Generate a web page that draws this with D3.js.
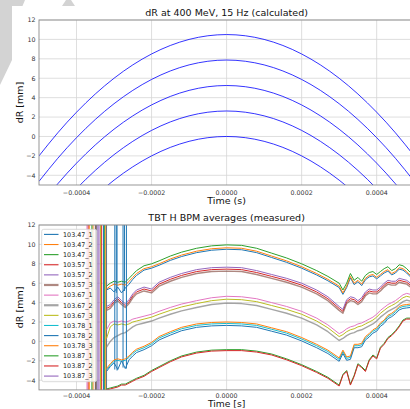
<!DOCTYPE html>
<html>
<head>
<meta charset="utf-8">
<script src="https://cdn.jsdelivr.net/npm/d3@7"></script>
<style>
  body { margin: 0; background: #fff; }
  svg { display: block; font-family: "DejaVu Sans", sans-serif; }
</style>
</head>
<body>
<svg id="chart" width="410" height="409"></svg>
<script>
// ---- calculated dR curves (top panel) ----
const calcTimes = [-0.0005, -0.00045, -0.0004, -0.00035, -0.0003, -0.00025, -0.0002, -0.00015, -0.0001, -0.00005, 0,
  0.00005, 0.0001, 0.00015, 0.0002, 0.00025, 0.0003, 0.00035, 0.0004, 0.00045, 0.0005];
const calc1 = [-2.0, 0.375, 2.5, 4.375, 6.0, 7.375, 8.5, 9.375, 10.0, 10.375, 10.5, 10.375, 10.0, 9.375, 8.5, 7.375, 6.0, 4.375, 2.5, 0.375, -2.0];
const calc2 = [-4.625, -2.25, -0.125, 1.75, 3.375, 4.75, 5.875, 6.75, 7.375, 7.75, 7.875, 7.75, 7.375, 6.75, 5.875, 4.75, 3.375, 1.75, -0.125, -2.25, -4.625];
const calc3 = [-7.25, -4.875, -2.75, -0.875, 0.75, 2.125, 3.25, 4.125, 4.75, 5.125, 5.25, 5.125, 4.75, 4.125, 3.25, 2.125, 0.75, -0.875, -2.75, -4.875, -7.25];
const calc4 = [-9.875, -7.5, -5.375, -3.5, -1.875, -0.5, 0.625, 1.5, 2.125, 2.5, 2.625, 2.5, 2.125, 1.5, 0.625, -0.5, -1.875, -3.5, -5.375, -7.5, -9.875];
const calc5 = [-12.5, -10.125, -8, -6.125, -4.5, -3.125, -2, -1.125, -0.5, -0.125, 0, -0.125, -0.5, -1.125, -2, -3.125, -4.5, -6.125, -8, -10.125, -12.5];

// ---- measured TBT averages (bottom panel) ----
const measTimes = [-0.00032, -0.00031, -0.0003, -0.00029, -0.00028, -0.00027, -0.00026, -0.00025, -0.00024, -0.00022, -0.0002,
  -0.00018, -0.00015, -0.00012, -0.00008, -0.00004, 0, 0.00004, 0.00008, 0.00012, 0.00016, 0.0002, 0.00024, 0.00027,
  0.0003, 0.00031, 0.00032, 0.00033, 0.00034, 0.00035, 0.00036, 0.00037, 0.00038, 0.00039, 0.0004, 0.00041, 0.00042,
  0.00043, 0.00044, 0.00045, 0.00046, 0.00047, 0.00048, 0.00049, 0.0005];

const bpm47_1 = [5.3, 5.5, 5.1, 5.6, 5.0, 5.5, 5.9, 6.4, 6.8, 7.35, 7.55, 7.85, 8.35, 8.75, 9.15, 9.4, 9.5, 9.45, 9.15, 8.65, 8.15, 7.55, 6.85, 6.25, 5.55, 4.85, 5.55, 6.55, 5.85, 6.15, 5.75, 6.35, 6.65, 6.75, 6.45, 6.75, 7.05, 7.25, 6.85, 7.05, 7.45, 7.35, 7.05, 6.65, 6.45];
const bpm47_2 = [5.4, 5.7, 5.9, 5.8, 5.9, 5.8, 6.2, 6.6, 7.0, 7.5, 7.7, 8.0, 8.5, 8.9, 9.3, 9.55, 9.65, 9.6, 9.3, 8.8, 8.3, 7.7, 7.0, 6.4, 5.7, 5.0, 5.7, 6.7, 6.0, 6.3, 5.9, 6.5, 6.8, 6.9, 6.6, 6.9, 7.2, 7.4, 7.0, 7.2, 7.6, 7.5, 7.2, 6.8, 6.6];
const bpm47_3 = [5.7, 6.0, 6.2, 6.1, 6.2, 6.1, 6.5, 6.9, 7.3, 7.8, 8.0, 8.3, 8.8, 9.2, 9.6, 9.85, 9.95, 9.9, 9.6, 9.1, 8.6, 8.0, 7.3, 6.7, 6.0, 5.3, 6.0, 7.0, 6.3, 6.6, 6.2, 6.8, 7.1, 7.2, 6.9, 7.2, 7.5, 7.7, 7.3, 7.5, 7.9, 7.8, 7.5, 7.1, 6.9];
const bpm57_1 = [3.4, 3.6, 4.1, 4.4, 4.0, 3.7, 4.1, 4.7, 5.1, 5.4, 5.2, 5.9, 6.4, 6.8, 7.2, 7.4, 7.45, 7.4, 7.1, 6.7, 6.3, 5.8, 5.1, 4.4, 3.4, 3.1, 4.1, 4.4, 4.3, 4.0, 4.3, 4.9, 5.2, 5.1, 5.1, 5.4, 5.8, 6.1, 6.0, 6.0, 6.3, 6.2, 6.1, 5.8, 5.7];
const bpm57_2 = [3.6, 3.8, 4.3, 4.6, 4.2, 3.9, 4.3, 4.9, 5.3, 5.6, 5.4, 6.1, 6.6, 7.0, 7.4, 7.6, 7.65, 7.6, 7.3, 6.9, 6.5, 6.0, 5.3, 4.6, 3.6, 3.3, 4.3, 4.6, 4.5, 4.2, 4.5, 5.1, 5.4, 5.3, 5.3, 5.6, 6.0, 6.3, 6.2, 6.2, 6.5, 6.4, 6.3, 6.0, 5.9];
const bpm57_3 = [3.2, 3.4, 3.9, 4.2, 3.8, 3.5, 3.9, 4.5, 4.9, 5.2, 5.0, 5.7, 6.2, 6.6, 7.0, 7.2, 7.25, 7.2, 6.9, 6.5, 6.1, 5.6, 4.9, 4.2, 3.2, 2.9, 3.9, 4.2, 4.1, 3.8, 4.1, 4.7, 5.0, 4.9, 4.9, 5.2, 5.6, 5.9, 5.8, 5.8, 6.1, 6.0, 5.9, 5.6, 5.5];
const bpm67_1 = [1.2, 1.9, 2.1, 2.0, 2.1, 2.0, 2.1, 2.3, 2.4, 2.6, 2.8, 3.1, 3.5, 3.85, 4.2, 4.5, 4.65, 4.6, 4.4, 4.0, 3.6, 3.1, 2.4, 1.7, 0.8, 1.0, 1.3, 1.5, 1.6, 1.8, 1.9, 2.1, 2.3, 2.5, 2.8, 3.2, 3.5, 3.8, 4.0, 4.2, 4.5, 4.8, 4.95, 4.85, 4.8];
const bpm67_2 = [-0.6, 0.0, 0.4, 0.6, 0.8, 0.9, 1.2, 1.5, 1.7, 1.9, 2.1, 2.4, 2.8, 3.15, 3.5, 3.8, 3.95, 3.9, 3.7, 3.3, 2.9, 2.4, 1.7, 1.0, 0.1, 0.3, 0.6, 0.8, 0.9, 1.1, 1.2, 1.4, 1.6, 1.8, 2.1, 2.5, 2.8, 3.1, 3.3, 3.5, 3.8, 4.1, 4.25, 4.15, 4.1];
const bpm67_3 = [0.3, 1.5, 1.8, 1.7, 1.8, 1.7, 1.8, 2.0, 2.1, 2.3, 2.5, 2.8, 3.2, 3.55, 3.9, 4.2, 4.35, 4.3, 4.1, 3.7, 3.3, 2.8, 2.1, 1.4, 0.5, 0.7, 1.0, 1.2, 1.3, 1.5, 1.6, 1.8, 2.0, 2.2, 2.5, 2.9, 3.2, 3.5, 3.7, 3.9, 4.2, 4.5, 4.65, 4.55, 4.5];
const bpm78_1 = [-2.95, -2.45, -2.05, -1.95, -2.05, -1.95, -1.65, -1.25, -0.95, -0.65, -0.25, 0.35, 0.85, 1.3, 1.65, 1.8, 1.85, 1.8, 1.65, 1.25, 0.85, 0.25, -0.45, -1.05, -1.85, -1.05, -1.75, -1.65, -0.45, -0.45, -0.35, 0.35, 0.65, 1.05, 1.25, 1.75, 2.05, 2.55, 2.75, 3.05, 3.45, 3.6, 3.65, 3.7, 3.65];
const bpm78_2 = [-3.1, -2.6, -2.2, -2.9, -2.0, -2.8, -1.9, -1.5, -1.15, -0.85, -0.45, 0.15, 0.65, 1.1, 1.45, 1.6, 1.65, 1.6, 1.45, 1.05, 0.65, 0.05, -0.65, -1.25, -2.05, -1.25, -1.95, -1.85, -0.65, -0.65, -0.55, 0.15, 0.45, 0.85, 1.05, 1.55, 1.85, 2.35, 2.55, 2.85, 3.25, 3.4, 3.45, 3.5, 3.45];
const bpm78_3 = [-2.8, -2.3, -1.9, -1.8, -1.9, -1.8, -1.5, -1.1, -0.8, -0.5, -0.1, 0.5, 1.0, 1.45, 1.8, 1.95, 2.0, 1.95, 1.8, 1.4, 1.0, 0.4, -0.3, -0.9, -1.7, -0.9, -1.6, -1.5, -0.3, -0.3, -0.2, 0.5, 0.8, 1.2, 1.4, 1.9, 2.2, 2.7, 2.9, 3.2, 3.6, 3.75, 3.8, 3.85, 3.8];
const bpm87_1 = [-4.9, -4.8, -4.7, -4.6, -4.4, -4.4, -4.2, -4.0, -3.8, -3.5, -3.0, -2.6, -2.0, -1.5, -1.1, -0.9, -0.85, -0.85, -1.0, -1.3, -1.8, -2.4, -3.1, -3.7, -4.5, -3.4, -3.0, -4.4, -3.5, -2.3, -2.6, -3.0, -1.9, -1.4, -1.7, -0.6, -0.2, 0.4, 0.7, 1.1, 1.6, 2.2, 2.4, 2.4, 2.3];
const bpm87_2 = [-5.0, -4.9, -4.8, -4.7, -4.5, -4.5, -4.3, -4.1, -3.9, -3.6, -3.1, -2.7, -2.1, -1.6, -1.2, -1.0, -0.95, -0.95, -1.1, -1.4, -1.9, -2.5, -3.2, -3.8, -4.6, -3.5, -3.1, -4.5, -3.6, -2.4, -2.7, -3.1, -2.0, -1.5, -1.8, -0.7, -0.3, 0.3, 0.6, 1.0, 1.5, 2.1, 2.3, 2.3, 2.2];
const bpm87_3 = [];

const bpmNames = ['103.47_1', '103.47_2', '103.47_3', '103.57_1', '103.57_2', '103.57_3', '103.67_1', '103.67_2',
  '103.67_3', '103.78_1', '103.78_2', '103.78_3', '103.87_1', '103.87_2', '103.87_3'];
const bpmValues = [bpm47_1, bpm47_2, bpm47_3, bpm57_1, bpm57_2, bpm57_3, bpm67_1, bpm67_2,
  bpm67_3, bpm78_1, bpm78_2, bpm78_3, bpm87_1, bpm87_2, bpm87_3];

// glitches before the beam is captured: vertical excursions
const spikeNames = ['103.67_1', '103.57_1', '103.78_3', '103.87_1', '103.47_2', '103.57_3', '103.67_2', '103.87_3',
  '103.57_2', '103.67_3', '103.87_2', '103.78_2', '103.47_3', '103.78_3', '103.47_1',
  '103.78_2', '103.78_2', '103.78_2', '103.78_2', '103.47_1', '103.47_1'];
const spikeTimes = [-0.000372, -0.000369, -0.000366, -0.000359, -0.000356, -0.000349, -0.000347, -0.000343,
  -0.00034, -0.000336, -0.000333, -0.000328, -0.000325, -0.000322, -0.00032,
  -0.000298, -0.000292, -0.000276, -0.000267, -0.000294, -0.000272];
const spikeLow = [-6, -6, -6, -6, -6, -6, -6, -6, -6, -6, -6, -6, -6, -6, -6, -2.9, -3.0, -2.7, -2.8, 5.0, 5.2];
const spikeHigh = [13, 13, 13, 13, 13, 13, 13, 13, 13, 13, 13, 13, 13, 13, 13, 13, 13, 13, 13, 13, 13];

const xTicks = [-0.0004, -0.0002, 0, 0.0002, 0.0004];
const yTicks = [-4, -2, 0, 2, 4, 6, 8, 10, 12];

// ---- drawing ----
const svg = d3.select('#chart');
const fmtX = d3.format('.4f');
const colors = d3.schemeCategory10;

function panel(top, bottom, title, xlabel, tickY, labelY, labelSize, id) {
  const x = d3.scaleLinear().domain([-0.0005, 0.0005]).range([39, 414.2]);
  const y = d3.scaleLinear().domain([-5, 12]).range([bottom, top]);
  const g = svg.append('g');

  svg.append('clipPath').attr('id', id)
    .append('rect').attr('x', 39).attr('y', top).attr('width', 375.2).attr('height', bottom - top);

  // grid
  g.selectAll('.gx').data(xTicks).enter().append('line')
    .attr('x1', d => x(d)).attr('x2', d => x(d)).attr('y1', top).attr('y2', bottom)
    .attr('stroke', '#d6d6d6').attr('stroke-width', 0.8);
  g.selectAll('.gy').data(yTicks).enter().append('line')
    .attr('x1', 39).attr('x2', 414.2).attr('y1', d => y(d)).attr('y2', d => y(d))
    .attr('stroke', '#d6d6d6').attr('stroke-width', 0.8);

  const plot = g.append('g').attr('clip-path', `url(#${id})`);

  // frame
  g.append('rect').attr('x', 39).attr('y', top).attr('width', 375.2).attr('height', bottom - top)
    .attr('fill', 'none').attr('stroke', '#8c8c8c').attr('stroke-width', 0.9);

  // tick labels
  g.selectAll('.tx').data(xTicks).enter().append('text')
    .attr('x', d => x(d)).attr('y', tickY)
    .attr('text-anchor', 'middle').attr('font-size', 6.3).attr('fill', '#333')
    .text(d => fmtX(d));
  g.selectAll('.ty').data(yTicks).enter().append('text')
    .attr('x', 35.5).attr('y', d => y(d) + 2.3)
    .attr('text-anchor', 'end').attr('font-size', 6.3).attr('fill', '#333')
    .text(d => d3.format('d')(d));

  g.append('text').attr('x', 226.6).attr('y', top - 4)
    .attr('text-anchor', 'middle').attr('font-size', 9.5).attr('fill', '#111').text(title);
  g.append('text').attr('x', 226.6).attr('y', labelY)
    .attr('text-anchor', 'middle').attr('font-size', labelSize).attr('fill', '#111').text(xlabel);
  g.append('text').attr('transform', `translate(23,${(top + bottom) / 2}) rotate(-90)`)
    .attr('text-anchor', 'middle').attr('font-size', 9.5).attr('fill', '#111').text('dR [mm]');

  return { x, y, plot };
}

// top panel
const p1 = panel(20, 185, 'dR at 400 MeV, 15 Hz (calculated)', 'Time (s)', 195, 204, 9.5, 'clipTop');
const calcLine = d3.line().x((d, i) => p1.x(calcTimes[i])).y(d => p1.y(d)).curve(d3.curveNatural);
[calc1, calc2, calc3, calc4, calc5].forEach(c => {
  p1.plot.append('path').attr('d', calcLine(c))
    .attr('fill', 'none').attr('stroke', 'blue').attr('stroke-width', 0.8);
});

// bottom panel
const p2 = panel(225, 389.9, 'TBT H BPM averages (measured)', 'Time [s]', 397.6, 407.4, 9.2, 'clipBottom');
const paleWide = new Set(['103.57_3', '103.67_2']);
const measLine = d3.line().x((d, i) => p2.x(measTimes[i])).y(d => p2.y(d)).curve(d3.curveLinear);
const spikeLine = d3.line().x(d => p2.x(d[0])).y(d => p2.y(d[1]));

bpmNames.forEach((name, k) => {
  const col = colors[k % 10];
  const wide = paleWide.has(name);
  spikeTimes.forEach((t, j) => {
    if (spikeNames[j] !== name) return;
    p2.plot.append('path').attr('d', spikeLine([[t, spikeHigh[j]], [t, spikeLow[j]]]))
      .attr('fill', 'none').attr('stroke', col).attr('stroke-width', wide ? 1.6 : 1);
  });
  const vals = bpmValues[k];
  if (!vals.length) return;
  p2.plot.append('path').attr('d', measLine(vals))
    .attr('fill', 'none').attr('stroke', col)
    .attr('stroke-width', wide ? 1.4 : 1).attr('stroke-opacity', wide ? 0.7 : 1)
    .attr('stroke-linejoin', 'round');
});

// legend
const lg = svg.append('g');
lg.append('rect').attr('x', 41.7).attr('y', 229.3).attr('width', 55).attr('height', 152.4)
  .attr('rx', 2).attr('fill', '#fff').attr('fill-opacity', 0.8)
  .attr('stroke', '#d0d0d0').attr('stroke-width', 0.8);
bpmNames.forEach((name, k) => {
  const cy = 234.4 + k * 10.12;
  const wide = paleWide.has(name);
  lg.append('line').attr('x1', 44).attr('x2', 58.5).attr('y1', cy).attr('y2', cy)
    .attr('stroke', colors[k % 10]).attr('stroke-width', wide ? 2.2 : 1.1)
    .attr('stroke-opacity', wide ? 0.7 : 1);
  lg.append('text').attr('x', 63).attr('y', cy + 2.3)
    .attr('font-size', 6.4).attr('fill', '#222').text(name);
});

// faint grey marks in the top-left corner
svg.append('polygon').attr('points', '0,0 25,0 22.5,6 12,6 12,60 0,85').attr('fill', '#d3d3d3');
svg.append('polygon').attr('points', '62,6 66,0 71,0 75,6').attr('fill', '#d3d3d3');
</script>
</body>
</html>
